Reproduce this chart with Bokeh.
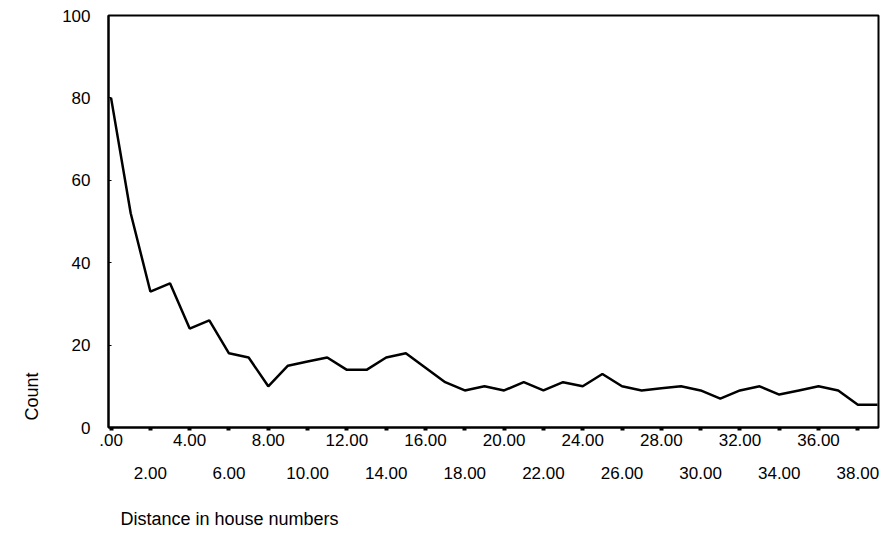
from bokeh.plotting import figure
from bokeh.models import Range1d, LinearAxis, FixedTicker, Title, ColumnDataSource
from bokeh.embed import file_html
from bokeh.resources import INLINE

# Data
distance = list(range(0, 40))
count = [80, 52, 33, 35, 24, 26, 18, 17, 10, 15,
         16, 17, 14, 14, 17, 18, 14.5, 11, 9, 10,
         9, 11, 9, 11, 10, 13, 10, 9, 9.5, 10,
         9, 7, 9, 10, 8, 9, 10, 9, 5.5, 5.5]

x_ticks = list(range(0, 40, 2))
x_ticks_upper = list(range(0, 40, 4))
x_ticks_lower = list(range(2, 40, 4))
y_ticks = [0, 20, 40, 60, 80, 100]

x_title = "Distance in house numbers"
y_title = "Count"

FONT = "Liberation Sans"
TICK_SIZE = "17px"

def fmt(v):
    s = "%.2f" % v
    return s[1:] if s.startswith("0") else s

p = figure(width=882, height=560, output_backend="svg", toolbar_location=None,
           x_range=Range1d(-0.13, 39.05), y_range=Range1d(0, 100),
           x_axis_location=None, y_axis_location=None,
           min_border_left=108, min_border_right=4, min_border_top=15,
           min_border_bottom=133,
           background_fill_color="white", border_fill_color="white")
p.grid.visible = False
p.outline_line_color = "black"
p.outline_line_width = 2

src = ColumnDataSource(dict(x=distance, y=count))
p.line("x", "y", source=src, line_color="black", line_width=2.5)

# y axis
ya = LinearAxis(ticker=FixedTicker(ticks=y_ticks))
ya.axis_line_width = 2
ya.major_tick_in = 3
ya.major_tick_out = 0
ya.minor_tick_line_color = None
ya.major_label_standoff = 18
ya.major_label_text_font = FONT
ya.major_label_text_font_size = TICK_SIZE
ya.major_label_text_color = "black"
p.add_layout(ya, "left")

# x axis, upper label row
xa = LinearAxis(ticker=FixedTicker(ticks=x_ticks))
xa.axis_line_width = 2
xa.major_tick_in = 0
xa.major_tick_out = 3
xa.major_tick_line_width = 4
xa.minor_tick_line_color = None
xa.major_label_overrides = {t: (fmt(t) if t in x_ticks_upper else "") for t in x_ticks}
xa.major_label_standoff = 3
xa.major_label_text_font = FONT
xa.major_label_text_font_size = TICK_SIZE
xa.major_label_text_color = "black"
p.add_layout(xa, "below")

# x axis, lower label row
xb = LinearAxis(ticker=FixedTicker(ticks=x_ticks_lower))
xb.axis_line_color = None
xb.major_tick_line_color = None
xb.minor_tick_line_color = None
xb.major_label_overrides = {t: fmt(t) for t in x_ticks_lower}
xb.major_label_standoff = 12
xb.major_label_text_font = FONT
xb.major_label_text_font_size = TICK_SIZE
xb.major_label_text_color = "black"
p.add_layout(xb, "below")

xt = Title(text=x_title, align="left", offset=12, standoff=50,
           text_font=FONT, text_font_size="18px", text_font_style="normal",
           text_color="black")
p.add_layout(xt, "below")

yt = Title(text=y_title, align="left", offset=7, standoff=36,
           text_font=FONT, text_font_size="18px", text_font_style="normal",
           text_color="black")
p.add_layout(yt, "left")

open("out.html", "w").write(file_html(p, INLINE))
